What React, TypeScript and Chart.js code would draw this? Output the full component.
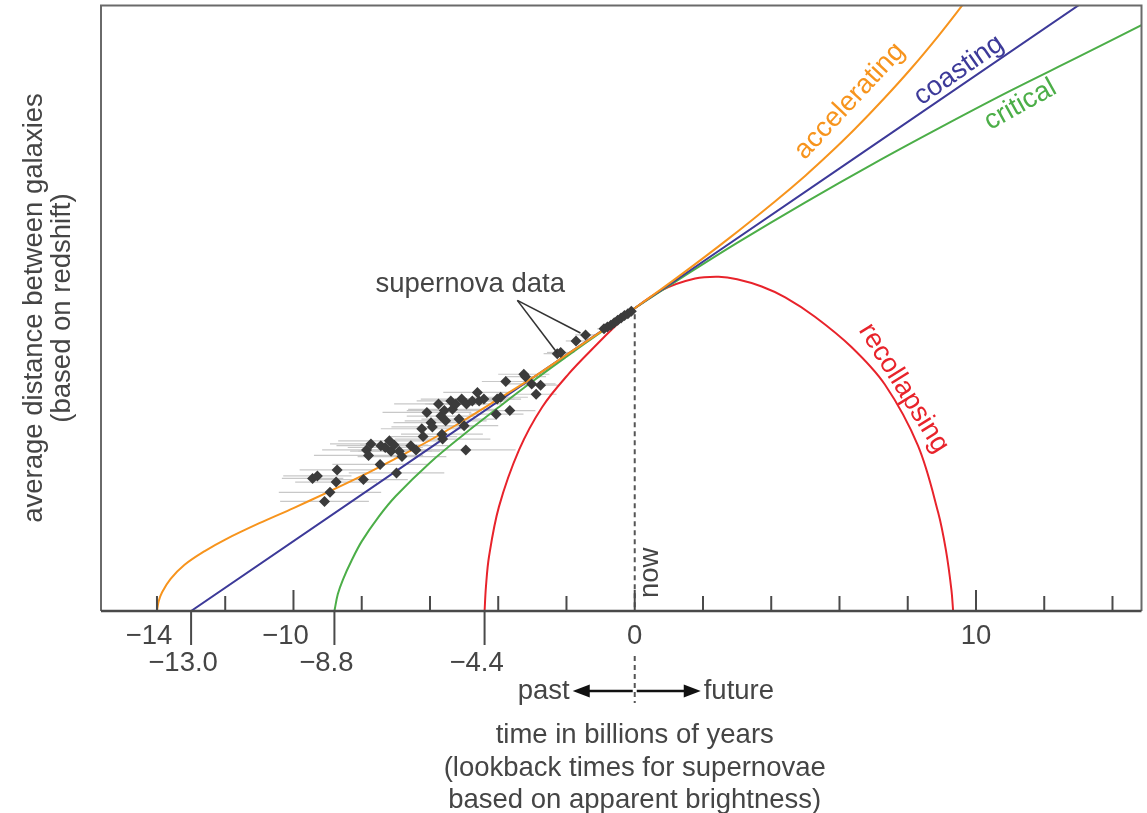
import { useEffect, useRef } from "react";
import { Chart, registerables } from "chart.js";

Chart.register(...registerables);

// ---------- axis ranges ----------
const X_MIN = -15.64;
const X_MAX = 14.85;
const Y_MIN = 0;
const Y_MAX = 100;

// ---------- ticks ----------
const tickValues = [-14, -12, -10, -8, -6, -4, -2, 0, 2, 4, 6, 8, 10, 12, 14];
const majorTickValues = [-10, 0, 10];
const upperLabelValues = [-14, -10, 0, 10];
const upperLabelTexts = ["−14", "−10", "0", "10"];
const epochValues = [-13.0, -8.8, -4.4];
const epochLabelTexts = ["−13.0", "−8.8", "−4.4"];

// ---------- model curves (time in Gyr, relative distance) ----------
const acceleratingTime = [-14.0, -13.95, -13.85, -13.6, -13.2, -12.6, -12.0, -11.0, -10.0, -9.0, -8.0, -7.0, -6.0, -5.0, -4.0, -3.0, -2.0, -1.0, 0, 1.3, 2.75, 4.1, 5.0, 5.7, 6.45, 7.3, 8.1, 8.9, 9.65];
const acceleratingDist = [0, 1.6, 3.1, 5.3, 7.6, 9.9, 11.8, 14.5, 17.0, 19.6, 22.3, 25.2, 28.2, 31.5, 35.0, 38.5, 42.3, 46.1, 50, 55.3, 61.5, 67.6, 71.9, 75.5, 79.6, 84.6, 89.6, 95.0, 100.4];

const coastingTime = [-13.0, 0, 13.1];
const coastingDist = [0, 50, 100.4];

const criticalTime = [-8.8, -8.7, -8.55, -8.3, -8.0, -7.5, -7.0, -6.0, -5.0, -4.0, -3.0, -2.0, -1.0, 0, 1.5, 3.0, 5.0, 7.0, 9.0, 11.0, 13.0, 14.9];
const criticalDist = [0, 2.8, 5.2, 8.3, 11.5, 15.6, 19.0, 24.5, 29.2, 33.6, 37.9, 42.0, 46.0, 50, 55.5, 60.8, 67.5, 73.9, 80.0, 85.9, 91.5, 96.9];

const recollapsingTime = [-4.4, -4.36, -4.27, -3.98, -3.39, -2.71, -1.93, -1.15, -0.56, 0, 0.8, 1.77, 2.46, 3.0, 3.72, 4.41, 5.28, 6.35, 7.33, 8.3, 8.89, 9.12, 9.28, 9.33];
const recollapsingDist = [0, 4.0, 9.0, 17.2, 26.6, 33.7, 39.2, 43.8, 47.1, 50, 53.0, 54.9, 55.2, 54.8, 53.6, 51.8, 48.6, 43.6, 37.4, 27.3, 16.3, 10.0, 3.5, 0];

// ---------- supernova data ----------
const snTime = [-9.44, -9.30, -9.09, -8.93, -8.75, -8.72, -7.95, -7.86, -7.80, -7.73, -7.46, -7.44, -7.31, -7.19, -7.14, -7.05, -6.98, -6.90, -6.82, -6.56, -6.41, -6.24, -6.20, -6.09, -5.97, -5.93, -5.75, -5.68, -5.65, -5.63, -5.58, -5.54, -5.39, -5.34, -5.24, -5.15, -5.07, -5.00, -4.95, -4.93, -4.76, -4.61, -4.56, -4.42, -4.06, -4.03, -3.93, -3.78, -3.66, -3.25, -3.20, -3.02, -2.89, -2.76, -2.27, -2.17, -1.72, -1.44, -0.90, -0.80, -0.70, -0.60, -0.50, -0.40, -0.30, -0.20, -0.10];
const snDistance = [21.9, 22.3, 18.1, 19.6, 21.3, 23.3, 21.7, 26.6, 25.7, 27.6, 24.2, 27.3, 27.0, 28.1, 26.4, 27.4, 22.8, 26.4, 25.5, 27.3, 26.6, 30.1, 28.8, 32.8, 31.1, 30.4, 34.2, 32.2, 29.2, 28.4, 33.1, 31.4, 34.7, 33.3, 34.2, 31.7, 35.0, 30.6, 26.6, 34.2, 34.7, 36.1, 34.7, 35.0, 32.5, 35.0, 35.3, 37.9, 33.1, 39.1, 38.7, 37.5, 35.8, 37.3, 42.5, 42.7, 44.6, 45.6, 46.6, 46.9, 47.2, 47.6, 48.0, 48.4, 48.8, 49.1, 49.5];
const snTimeError = [0.9, 1.0, 1.3, 1.5, 1.2, 1.1, 1.3, 1.3, 1.6, 1.2, 1.4, 1.3, 1.1, 1.5, 1.2, 1.0, 1.4, 1.2, 1.3, 1.1, 1.4, 1.2, 1.0, 1.3, 1.1, 1.2, 1.3, 1.0, 1.2, 1.4, 1.1, 1.2, 1.0, 1.3, 0.9, 1.1, 1.2, 1.0, 1.46, 1.1, 0.9, 1.0, 0.8, 0.9, 0.8, 0.7, 0.8, 0.7, 0.75, 0.75, 0.6, 0.7, 0.6, 0.5, 0.4, 0.4, 0.3, 0.3, 0.2, 0.2, 0.2, 0.15, 0.15, 0.1, 0.1, 0.1, 0.1];

// ---------- annotation placement (data coordinates) ----------
const curveLabelTexts = ["accelerating", "coasting", "critical", "recollapsing"];
const curveLabelTime = [6.3, 9.5, 11.3, 7.88];
const curveLabelDist = [84.2, 89.3, 83.6, 36.8];
const curveLabelAngle = [-47, -35, -29, 58];

const COLORS = {
  accelerating: "#f7941d",
  coasting: "#3d3a99",
  critical: "#4cae48",
  recollapsing: "#e8232b",
  text: "#454545",
  axis: "#4a4a4a",
  frame: "#6a6a6a",
  point: "#3b3b3b",
  errorBar: "#c8c8c8",
};
const curveLabelColors = [COLORS.accelerating, COLORS.coasting, COLORS.critical, COLORS.recollapsing];

const supernovaLabel = { text: "supernova data", time: -4.82, dist: 54.0 };
const pointerFrom = { time: -3.44, dist: 51.3 };
const pointerTo = [
  { time: -2.27, dist: 42.6 },
  { time: -1.59, dist: 45.9 },
];
const nowLabel = { text: "now", time: 0.47, dist: 6.3 };

const FONT = '27.5px "Liberation Sans", Arial, Helvetica, sans-serif';

function toPoints(xs: number[], ys: number[]) {
  return xs.map((x, i) => ({ x, y: ys[i] }));
}

function drawSignedLabel(ctx: CanvasRenderingContext2D, text: string, cx: number, cy: number) {
  ctx.textAlign = "left";
  ctx.textBaseline = "middle";
  if (text.startsWith("−")) {
    const digits = text.slice(1);
    const dw = ctx.measureText(digits).width;
    const mw = ctx.measureText("−").width;
    ctx.fillText(text, cx - dw / 2 - mw, cy);
  } else {
    const dw = ctx.measureText(text).width;
    ctx.fillText(text, cx - dw / 2, cy);
  }
}

const decorPlugin = {
  id: "decor",
  beforeDatasetsDraw(chart: any) {
    const { ctx, chartArea, scales } = chart;
    const xs = scales.x;
    const ys = scales.y;
    ctx.save();
    ctx.strokeStyle = COLORS.errorBar;
    ctx.lineWidth = 1.2;
    for (let i = 0; i < snTime.length; i++) {
      const py = ys.getPixelForValue(snDistance[i]);
      ctx.beginPath();
      ctx.moveTo(xs.getPixelForValue(snTime[i] - snTimeError[i]), py);
      ctx.lineTo(xs.getPixelForValue(snTime[i] + snTimeError[i]), py);
      ctx.stroke();
    }
    const x0 = xs.getPixelForValue(0);
    ctx.strokeStyle = "#555";
    ctx.lineWidth = 2;
    ctx.setLineDash([5, 4]);
    ctx.beginPath();
    ctx.moveTo(x0, ys.getPixelForValue(49));
    ctx.lineTo(x0, chartArea.bottom);
    ctx.stroke();
    ctx.beginPath();
    ctx.moveTo(x0, chartArea.bottom + 45);
    ctx.lineTo(x0, chartArea.bottom + 92);
    ctx.stroke();
    ctx.setLineDash([]);
    ctx.restore();
  },
  afterDatasetsDraw(chart: any) {
    const { ctx, chartArea, scales } = chart;
    const { left, right, top, bottom } = chartArea;
    const xs = scales.x;
    const ys = scales.y;
    ctx.save();

    ctx.strokeStyle = COLORS.frame;
    ctx.lineWidth = 2;
    ctx.beginPath();
    ctx.moveTo(left, bottom);
    ctx.lineTo(left, top);
    ctx.lineTo(right, top);
    ctx.lineTo(right, bottom);
    ctx.stroke();

    ctx.strokeStyle = COLORS.axis;
    ctx.lineWidth = 2.5;
    ctx.beginPath();
    ctx.moveTo(left, bottom);
    ctx.lineTo(right, bottom);
    ctx.stroke();

    ctx.lineWidth = 2;
    tickValues.forEach((v) => {
      const px = xs.getPixelForValue(v);
      const len = majorTickValues.includes(v) ? 21 : 15;
      ctx.beginPath();
      ctx.moveTo(px, bottom);
      ctx.lineTo(px, bottom - len);
      ctx.stroke();
    });
    epochValues.forEach((v) => {
      const px = xs.getPixelForValue(v);
      ctx.beginPath();
      ctx.moveTo(px, bottom);
      ctx.lineTo(px, bottom + 34);
      ctx.stroke();
    });

    ctx.fillStyle = COLORS.text;
    ctx.font = FONT;
    upperLabelValues.forEach((v, i) => {
      drawSignedLabel(ctx, upperLabelTexts[i], xs.getPixelForValue(v), bottom + 25);
    });
    epochValues.forEach((v, i) => {
      drawSignedLabel(ctx, epochLabelTexts[i], xs.getPixelForValue(v), bottom + 52);
    });

    const x0 = xs.getPixelForValue(0);
    const ay = bottom + 80;
    ctx.strokeStyle = "#111";
    ctx.fillStyle = "#111";
    ctx.lineWidth = 2.5;
    ctx.beginPath();
    ctx.moveTo(x0 - 2, ay);
    ctx.lineTo(x0 - 50, ay);
    ctx.moveTo(x0 + 2, ay);
    ctx.lineTo(x0 + 52, ay);
    ctx.stroke();
    ctx.beginPath();
    ctx.moveTo(x0 - 62, ay);
    ctx.lineTo(x0 - 45, ay - 6.5);
    ctx.lineTo(x0 - 45, ay + 6.5);
    ctx.closePath();
    ctx.fill();
    ctx.beginPath();
    ctx.moveTo(x0 + 66, ay);
    ctx.lineTo(x0 + 49, ay - 6.5);
    ctx.lineTo(x0 + 49, ay + 6.5);
    ctx.closePath();
    ctx.fill();

    ctx.fillStyle = COLORS.text;
    ctx.font = FONT;
    ctx.textBaseline = "middle";
    ctx.textAlign = "right";
    ctx.fillText("past", x0 - 65, ay);
    ctx.textAlign = "left";
    ctx.fillText("future", x0 + 69, ay);

    ctx.textAlign = "center";
    ctx.fillText("time in billions of years", x0, bottom + 124);
    ctx.fillText("(lookback times for supernovae", x0, bottom + 157);
    ctx.fillText("based on apparent brightness)", x0, bottom + 189);

    ctx.save();
    ctx.translate(34, 308);
    ctx.rotate(-Math.PI / 2);
    ctx.fillText("average distance between galaxies", 0, 0);
    ctx.fillText("(based on redshift)", 0, 28);
    ctx.restore();

    curveLabelTexts.forEach((t, i) => {
      ctx.save();
      ctx.translate(xs.getPixelForValue(curveLabelTime[i]), ys.getPixelForValue(curveLabelDist[i]));
      ctx.rotate((curveLabelAngle[i] * Math.PI) / 180);
      ctx.fillStyle = curveLabelColors[i];
      ctx.textAlign = "center";
      ctx.textBaseline = "middle";
      ctx.fillText(t, 0, 0);
      ctx.restore();
    });

    ctx.fillStyle = COLORS.text;
    ctx.textAlign = "center";
    ctx.textBaseline = "middle";
    ctx.fillText(supernovaLabel.text, xs.getPixelForValue(supernovaLabel.time), ys.getPixelForValue(supernovaLabel.dist));
    ctx.strokeStyle = "#333";
    ctx.lineWidth = 1.6;
    pointerTo.forEach((p) => {
      ctx.beginPath();
      ctx.moveTo(xs.getPixelForValue(pointerFrom.time), ys.getPixelForValue(pointerFrom.dist));
      ctx.lineTo(xs.getPixelForValue(p.time), ys.getPixelForValue(p.dist));
      ctx.stroke();
    });

    ctx.save();
    ctx.translate(xs.getPixelForValue(nowLabel.time), ys.getPixelForValue(nowLabel.dist));
    ctx.rotate(-Math.PI / 2);
    ctx.fillStyle = COLORS.text;
    ctx.fillText(nowLabel.text, 0, 0);
    ctx.restore();

    ctx.restore();
  },
};

export default function App() {
  const canvasRef = useRef<HTMLCanvasElement | null>(null);

  useEffect(() => {
    if (!canvasRef.current) return;
    const lineDs = (label: string, xs: number[], ys: number[], color: string, order: number) => ({
      type: "line" as const,
      label,
      data: toPoints(xs, ys),
      borderColor: color,
      backgroundColor: color,
      borderWidth: 2,
      pointRadius: 0,
      showLine: true,
      fill: false,
      tension: 0.35,
      order,
    });
    const chart = new Chart(canvasRef.current, {
      type: "scatter",
      data: {
        datasets: [
          {
            type: "scatter" as const,
            label: "supernova data",
            data: toPoints(snTime, snDistance),
            pointStyle: "rectRot",
            pointRadius: 5.5,
            backgroundColor: COLORS.point,
            borderColor: COLORS.point,
            borderWidth: 0,
            order: 0,
          },
          lineDs("accelerating", acceleratingTime, acceleratingDist, COLORS.accelerating, 1),
          lineDs("coasting", coastingTime, coastingDist, COLORS.coasting, 2),
          lineDs("critical", criticalTime, criticalDist, COLORS.critical, 3),
          lineDs("recollapsing", recollapsingTime, recollapsingDist, COLORS.recollapsing, 4),
        ] as any,
      },
      options: {
        responsive: false,
        maintainAspectRatio: false,
        devicePixelRatio: 1,
        animation: false,
        layout: { padding: { left: 101, right: 3, top: 5, bottom: 202 } },
        plugins: { legend: { display: false }, tooltip: { enabled: false } },
        scales: {
          x: { type: "linear", min: X_MIN, max: X_MAX, display: false },
          y: { type: "linear", min: Y_MIN, max: Y_MAX, display: false },
        },
      },
      plugins: [decorPlugin],
    });
    return () => chart.destroy();
  }, []);

  return (
    <div style={{ position: "absolute", left: 0, top: 0, width: 1147, height: 813, background: "#fff" }}>
      <canvas ref={canvasRef} width={1147} height={813} style={{ width: 1147, height: 813, display: "block" }} />
    </div>
  );
}
